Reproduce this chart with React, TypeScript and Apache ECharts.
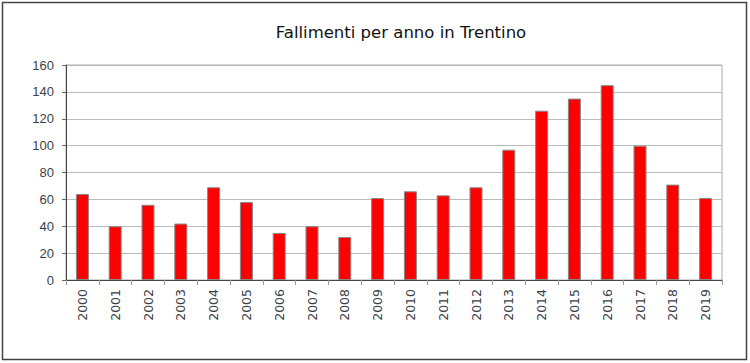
import React, { useEffect, useRef } from "react";
import * as echarts from "echarts";

const years = ["2000","2001","2002","2003","2004","2005","2006","2007","2008","2009","2010","2011","2012","2013","2014","2015","2016","2017","2018","2019"];
const fallimenti = [64, 40, 56, 42, 69, 58, 35, 40, 32, 61, 66, 63, 69, 97, 126, 135, 145, 100, 71, 61];
const yTicks = { min: 0, max: 160, interval: 20 };
const title = "Fallimenti per anno in Trentino";

export default function App() {
  const ref = useRef<HTMLDivElement>(null);
  useEffect(() => {
    const chart = echarts.init(ref.current!, null, { renderer: "svg" });
    chart.setOption({
      animation: false,
      backgroundColor: "#ffffff",
      title: {
        text: title,
        left: 396,
        textAlign: "center",
        top: 19,
        textStyle: { fontFamily: "DejaVu Sans", fontWeight: "normal", fontSize: 16.5, color: "#111" },
      },
      graphic: [
        {
          type: "rect",
          shape: { x: 2.5, y: 2.5, width: 744, height: 357 },
          style: { fill: "none", stroke: "#444", lineWidth: 1.5 },
          silent: true,
        },
      ],
      grid: {
        left: 66,
        right: 28,
        top: 65,
        bottom: 83,
        show: true,
        borderColor: "#aaa",
        borderWidth: 1,
      },
      xAxis: {
        type: "category",
        data: years,
        axisLine: { lineStyle: { color: "#444", width: 1 } },
        axisTick: { show: true, length: 5, lineStyle: { color: "#999" } },
        axisLabel: {
          rotate: 90,
          margin: 9,
          fontFamily: "DejaVu Sans",
          fontSize: 12.5,
          color: "#3a3f4a",
          interval: 0,
        },
      },
      yAxis: {
        type: "value",
        min: yTicks.min,
        max: yTicks.max,
        interval: yTicks.interval,
        axisLine: { show: true, lineStyle: { color: "#444", width: 1 } },
        axisTick: { show: true, length: 4, lineStyle: { color: "#666" } },
        axisLabel: { fontFamily: "Liberation Sans", fontSize: 13, color: "#3a3f4a", margin: 12 },
        splitLine: { lineStyle: { color: "#bbb", width: 1 } },
      },
      series: [
        {
          type: "bar",
          data: fallimenti,
          barWidth: 13,
          itemStyle: { color: "#ff0000", borderColor: "#888", borderWidth: 1 },
        },
      ],
    });
    return () => chart.dispose();
  }, []);
  return <div ref={ref} style={{ position: "absolute", left: 0, top: 0, width: 750, height: 363 }} />;
}
